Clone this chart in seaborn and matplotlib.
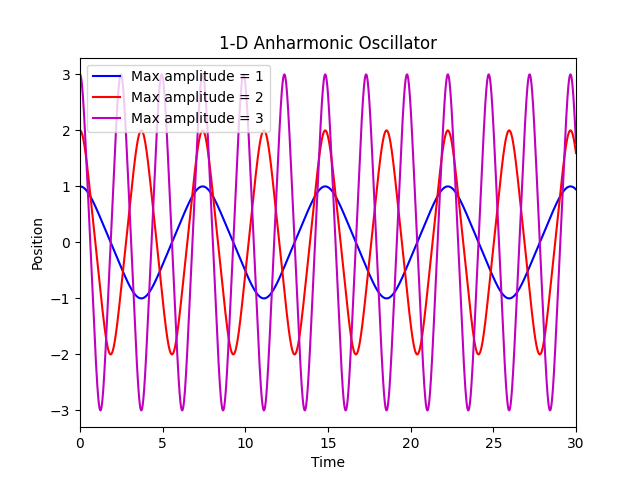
import numpy as np
import pandas as pd
import matplotlib
import matplotlib.pyplot as plt
import seaborn as sns

matplotlib.use('Agg')

# Chart values
amplitudes = [1, 2, 3]
line_colors = ['b', 'r', 'm']
t_end = 30.0
n_steps = 3000


def simulate(amp):
    """Integrate x'' = -x^3 from x(0)=amp, v(0)=0 with RK4"""
    dt = t_end / n_steps
    t = np.linspace(0, t_end, n_steps + 1)
    x = np.empty(n_steps + 1)
    x[0] = amp
    v = 0.0
    for i in range(n_steps):
        xi = x[i]
        k1x, k1v = v, -xi ** 3
        k2x, k2v = v + 0.5 * dt * k1v, -(xi + 0.5 * dt * k1x) ** 3
        k3x, k3v = v + 0.5 * dt * k2v, -(xi + 0.5 * dt * k2x) ** 3
        k4x, k4v = v + dt * k3v, -(xi + dt * k3x) ** 3
        x[i + 1] = xi + dt / 6 * (k1x + 2 * k2x + 2 * k3x + k4x)
        v = v + dt / 6 * (k1v + 2 * k2v + 2 * k3v + k4v)
    return t, x


fig, ax = plt.subplots(figsize=(6.4, 4.8), dpi=100)

for amp, col in zip(amplitudes, line_colors):
    t, x = simulate(amp)
    df = pd.DataFrame({'Time': t, 'Position': x})
    sns.lineplot(data=df, x='Time', y='Position', color=col, linewidth=1.5,
                 label=f'Max amplitude = {amp}', ax=ax)

ax.set_xlim(0, t_end)
ax.set_title('1-D Anharmonic Oscillator')
ax.set_xlabel('Time')
ax.set_ylabel('Position')
ax.legend(loc='upper left')

plt.savefig('out.png', dpi=100)
plt.close()
